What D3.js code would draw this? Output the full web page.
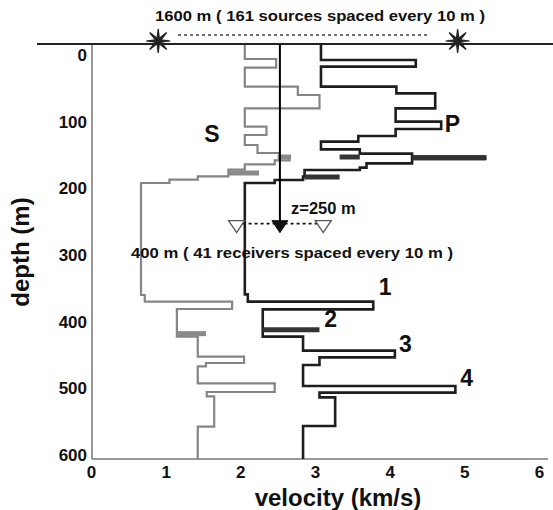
<!DOCTYPE html>
<html>
<head>
<meta charset="utf-8">
<script src="https://cdn.jsdelivr.net/npm/d3@7"></script>
<style>
  html, body { margin: 0; padding: 0; background: #fff; }
  svg text { font-family: "Liberation Sans", Arial, Helvetica, sans-serif; font-weight: bold; fill: #111; }
</style>
</head>
<body>
<svg id="chart" width="553" height="510"></svg>
<script>
// Layered velocity model: each layer = [top depth (m), velocity (km/s)]
const depthTicks = [0, 100, 200, 300, 400, 500, 600];
const velocityTicks = [0, 1, 2, 3, 4, 5, 6];
const surfaceDepth = -22.5;
const bottomDepth = 600;

const sLayerTops = [-22.5, 0, 13, 41.5, 54, 74, 101.5, 114, 129, 141, 147, 152, 158, 166, 176, 181, 186, 354, 364, 375, 416.5, 446.5, 456, 461, 486.5, 499.5, 506, 551.5];
const sVelocity  = [2.06, 2.48, 2.06, 2.77, 3.06, 2.06, 2.35, 2.06, 2.23, 2.52, 2.66, 2.46, 2.06, 1.84, 1.43, 1.05, 0.67, 0.72, 1.89, 1.15, 1.43, 2.05, 1.54, 1.43, 2.46, 1.55, 1.65, 1.43];

const pLayerTops = [-22.5, 1.5, 11.5, 41.5, 51.5, 74, 94, 105, 115.5, 124, 135.5, 142, 146.5, 150, 156.5, 163, 166.5, 176.5, 181.5, 186, 353, 364, 375.5, 416.5, 437.5, 447.5, 459, 490.5, 500.5, 507.5, 550.5];
const pVelocity  = [3.08, 4.35, 3.08, 4.09, 4.61, 4.08, 4.69, 4.08, 3.58, 3.08, 3.60, 4.30, 5.28, 4.30, 3.69, 3.60, 2.86, 2.84, 2.46, 2.06, 2.10, 3.78, 2.30, 2.84, 4.07, 3.06, 2.84, 4.88, 3.06, 3.27, 2.84];

// Highlighted thin layers: [depth, v from, v to]
const pHighlights = [[147, 3.33, 3.60], [148, 4.30, 5.28], [177, 2.86, 3.33], [406, 2.30, 3.06]];
const sHighlights = [[147, 2.50, 2.68], [171, 1.84, 2.25], [412, 1.15, 1.54]];

// Reflector labels: [text, velocity, depth]
const reflectorLabels = [["1", 3.94, 354], ["2", 3.21, 402], ["3", 4.21, 440], ["4", 5.03, 491]];
const waveLabels = [["S", 1.62, 125], ["P", 4.84, 110]];

// Acquisition geometry
const wellVelocityPos = 2.53;
const receiverDepth = 250;
const receiverHalfSpread = 0.58;
const sourcePositions = [0.90, 4.91];

const svg = d3.select("#chart");
const x = d3.scaleLinear().domain([0, 6]).range([91, 539]);
const y = d3.scaleLinear().domain([surfaceDepth, bottomDepth]).range([44, 459]);

function stepPoints(tops, vels) {
  const pts = [];
  tops.forEach((t, i) => {
    const b = i + 1 < tops.length ? tops[i + 1] : bottomDepth;
    pts.push([vels[i], t], [vels[i], b]);
  });
  return pts;
}
const line = d3.line().x(d => x(d[0])).y(d => y(d[1]));

// axes
const yAxis = d3.axisLeft(y).tickValues(depthTicks).tickFormat(d3.format("d")).tickSize(0).tickPadding(5);
const gy = svg.append("g").attr("transform", "translate(92,0)").call(yAxis);
gy.select(".domain").remove();
gy.selectAll("text").attr("font-size", 17).attr("dy", "0.08em")
  .style("font-family", "Liberation Sans, Arial, sans-serif").style("font-weight", "bold").attr("fill", "#111");

const xAxis = d3.axisBottom(x).tickValues(velocityTicks).tickFormat(d3.format("d")).tickSize(0).tickPadding(7);
const gx = svg.append("g").attr("transform", "translate(0,459)").call(xAxis);
gx.select(".domain").remove();
gx.selectAll("text").attr("font-size", 17)
  .style("font-family", "Liberation Sans, Arial, sans-serif").style("font-weight", "bold").attr("fill", "#111");

svg.append("line").attr("x1", 92).attr("x2", 92).attr("y1", 44).attr("y2", 459)
  .attr("stroke", "#777").attr("stroke-width", 1.5);
svg.append("line").attr("x1", 92).attr("x2", 548).attr("y1", 459).attr("y2", 459)
  .attr("stroke", "#777").attr("stroke-width", 1.5);

svg.append("text").attr("x", 338).attr("y", 506).attr("text-anchor", "middle")
  .attr("font-size", 24).text("velocity (km/s)");
svg.append("text").attr("transform", "translate(29,252) rotate(-90)").attr("text-anchor", "middle")
  .attr("font-size", 24).text("depth (m)");

// S profile
svg.append("path").datum(stepPoints(sLayerTops, sVelocity)).attr("d", line)
  .attr("fill", "none").attr("stroke", "#858585").attr("stroke-width", 2.2);
svg.selectAll(".sh").data(sHighlights).join("line").attr("class", "sh")
  .attr("x1", d => x(d[1])).attr("x2", d => x(d[2])).attr("y1", d => y(d[0])).attr("y2", d => y(d[0]))
  .attr("stroke", "#8a8a8a").attr("stroke-width", 5);

// P profile
svg.append("path").datum(stepPoints(pLayerTops, pVelocity)).attr("d", line)
  .attr("fill", "none").attr("stroke", "#1e1e1e").attr("stroke-width", 2.6);
svg.selectAll(".ph").data(pHighlights).join("line").attr("class", "ph")
  .attr("x1", d => x(d[1])).attr("x2", d => x(d[2])).attr("y1", d => y(d[0])).attr("y2", d => y(d[0]))
  .attr("stroke", "#333").attr("stroke-width", 5);

// surface line
svg.append("line").attr("x1", 37).attr("x2", 553).attr("y1", 44).attr("y2", 44)
  .attr("stroke", "#222").attr("stroke-width", 2);

// well and receivers
const ry = y(receiverDepth);
svg.append("line").attr("x1", x(wellVelocityPos)).attr("x2", x(wellVelocityPos))
  .attr("y1", 44).attr("y2", ry - 3).attr("stroke", "#000").attr("stroke-width", 2);
svg.append("line").attr("x1", x(wellVelocityPos - receiverHalfSpread)).attr("x2", x(wellVelocityPos + receiverHalfSpread))
  .attr("y1", ry - 2).attr("y2", ry - 2).attr("stroke", "#111").attr("stroke-width", 1.8).attr("stroke-dasharray", "3,3");
const tri = (cx, cy) => `M${cx - 8},${cy - 5}L${cx + 8},${cy - 5}L${cx},${cy + 7}Z`;
[wellVelocityPos - receiverHalfSpread, wellVelocityPos + receiverHalfSpread].forEach(v => {
  svg.append("path").attr("d", tri(x(v), ry)).attr("fill", "#fff").attr("stroke", "#555").attr("stroke-width", 1.3);
});
svg.append("path").attr("d", tri(x(wellVelocityPos), ry)).attr("fill", "#111").attr("stroke", "#111");

svg.append("text").attr("x", 291).attr("y", 214).attr("font-size", 16.5).text("z=250 m");
svg.append("text").attr("x", 131).attr("y", 258).attr("font-size", 15.5)
  .attr("textLength", 322).attr("lengthAdjust", "spacingAndGlyphs")
  .text("400 m ( 41 receivers spaced every 10 m )");

// sources
const starPts = d3.range(16).map(i => [i * Math.PI / 8, i % 2 === 0 ? 12 : 3]);
const star = d3.lineRadial().angle(d => d[0]).radius(d => d[1]).curve(d3.curveLinearClosed);
sourcePositions.forEach(v => {
  svg.append("path").attr("d", star(starPts)).attr("transform", `translate(${x(v)},41)`)
    .attr("fill", "#222").attr("stroke", "#222").attr("stroke-width", 1.2);
});
svg.append("line").attr("x1", 178).attr("x2", 430).attr("y1", 35).attr("y2", 35)
  .attr("stroke", "#444").attr("stroke-width", 1.3).attr("stroke-dasharray", "3,3");
svg.append("text").attr("x", 155).attr("y", 21).attr("font-size", 15.5)
  .attr("textLength", 330).attr("lengthAdjust", "spacingAndGlyphs")
  .text("1600 m ( 161 sources spaced every 10 m )");

// labels
svg.selectAll(".wl").data(waveLabels).join("text").attr("class", "wl")
  .attr("x", d => x(d[1])).attr("y", d => y(d[2])).attr("text-anchor", "middle")
  .attr("font-size", 23).text(d => d[0]);
svg.selectAll(".rl").data(reflectorLabels).join("text").attr("class", "rl")
  .attr("x", d => x(d[1])).attr("y", d => y(d[2])).attr("text-anchor", "middle")
  .attr("font-size", 23).text(d => d[0]);
</script>
</body>
</html>
